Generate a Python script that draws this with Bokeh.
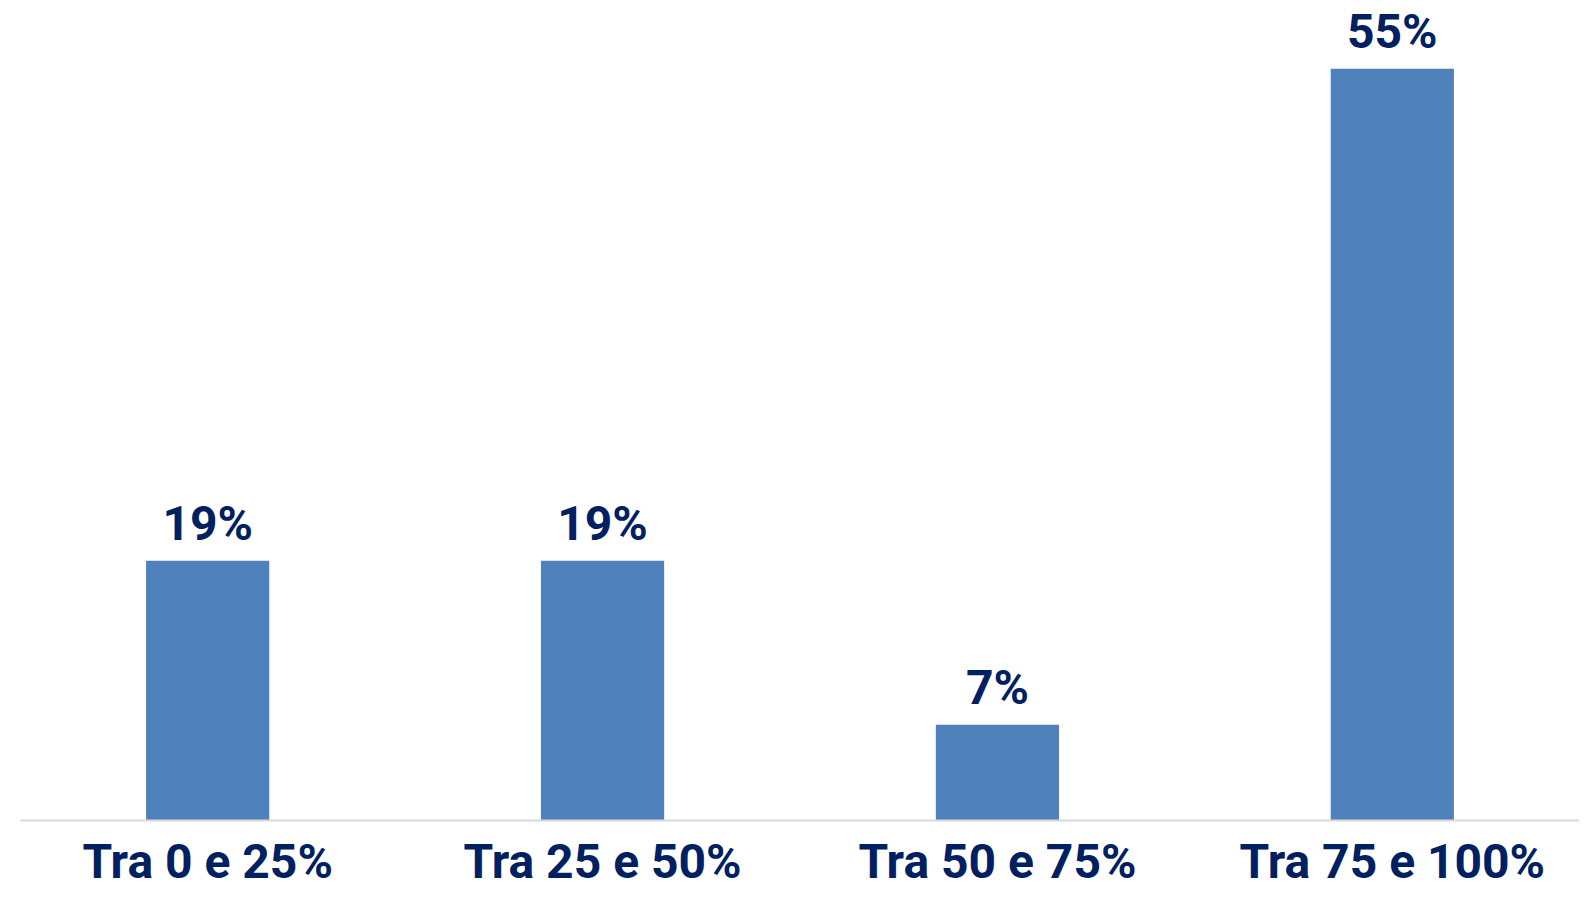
from bokeh.plotting import figure
from bokeh.models import ColumnDataSource, FactorRange, Range1d, LabelSet
from bokeh.core.properties import value
from bokeh.embed import file_html
from bokeh.resources import INLINE

categories = ["Tra 0 e 25%", "Tra 25 e 50%", "Tra 50 e 75%", "Tra 75 e 100%"]
values = [19, 19, 7, 55]
labels = ["19%", "19%", "7%", "55%"]

BAR = "#4F81BD"
TXT = "#002060"
FONT = "Roboto"

src = ColumnDataSource(dict(cat=categories, val=values, lab=labels))

p = figure(x_range=FactorRange(*categories, range_padding=-0.013), y_range=Range1d(0, 60),
           width=1579, height=892, output_backend="svg", toolbar_location=None,
           min_border_left=20, min_border_right=0, min_border_top=0, min_border_bottom=0)
p.vbar(x="cat", top="val", width=0.312, source=src, color=BAR, line_color=None)

p.add_layout(LabelSet(x="cat", y="val", text="lab", source=src, x_offset=0, y_offset=21,
                      text_align="center", text_baseline="alphabetic", text_color=TXT,
                      text_font=value(FONT), text_font_size="48px", text_font_style="bold"))

p.yaxis.visible = False
p.xgrid.visible = False
p.ygrid.visible = False
p.outline_line_color = None
p.xaxis.axis_line_color = "#D9D9D9"
p.xaxis.axis_line_width = 2
p.xaxis.major_tick_line_color = None
p.xaxis.minor_tick_line_color = None
p.xaxis.major_label_text_font = FONT
p.xaxis.major_label_text_font_size = "48px"
p.xaxis.major_label_text_font_style = "bold"
p.xaxis.major_label_text_color = TXT
p.xaxis.major_label_standoff = 12
p.xaxis.major_tick_out = 0
p.xaxis.major_tick_in = 0

open("out.html", "w").write(file_html(p, INLINE))
